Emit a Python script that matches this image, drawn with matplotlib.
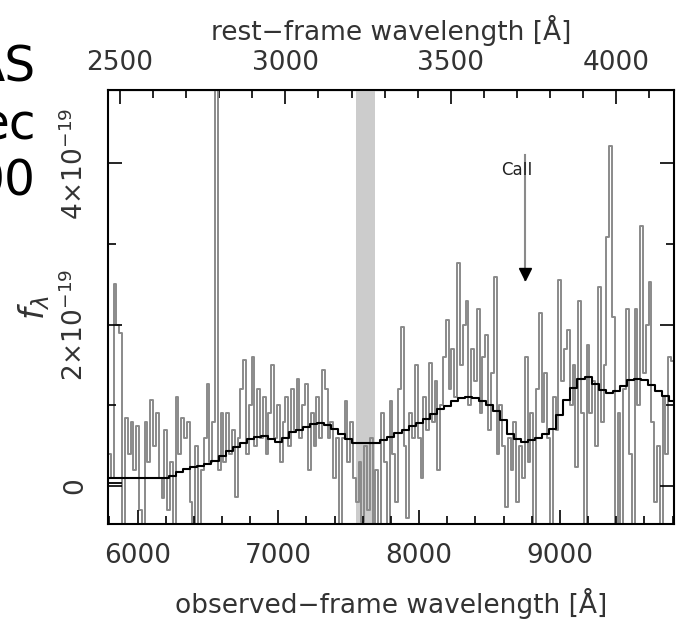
import matplotlib.pyplot as plt
import matplotlib.ticker as ticker
import numpy as np

plt.rcParams['font.family'] = ['DejaVu Sans']
plt.rcParams['mathtext.fontset'] = 'dejavusans'

# observed-frame spectrum, 20 A bins starting at 5800 A, units of 1e-19
one_plus_z = 2.35
flux_start, flux_step = 5800, 20
flux = [0.4, 0.1, 2.5, 2.0, 1.9, -0.8, 0.85, 0.4, 0.8, 0.2, 0.75, -0.3, -0.8, 0.8, 0.3, 1.07, 0.5, 0.9, 0.1, -0.15, 0.7, -0.3, 0.3, -0.8, 1.1,
        0.4, 0.85, 0.6, 0.8, -0.2, -0.8, 0.5, -0.8, 0.2, 0.6, 1.27, 0.3, 0.8, 6.0, 0.2, 0.9, 0.3, 0.9, 0.4, 0.7, -0.14, 0.6, 1.2, 1.56, 0.4,
        1.0, 1.6, 0.5, 1.2, 0.6, 1.1, 0.4, 0.9, 1.5, 0.6, 1.0, 0.3, 0.8, 1.1, 0.5, 1.2, 0.7, 1.33, 0.6, 1.0, 1.26, 0.2, 0.9, 0.5, 1.1,
        0.6, 1.44, 1.2, 0.6, 0.8, 0.1, 0.6, -0.8, 0.6, 1.06, 0.3, 0.8, 0.1, -0.2, 0.3, -0.45, 0.5, -0.3, 0.6, -0.8, 0.2, -0.5, 0.9, 0.3, -0.8,
        1.06, 0.4, -0.2, 1.2, 1.97, 0.5, -0.4, 0.9, 0.6, 1.5, 0.6, 0.1, 1.1, 0.7, 1.52, 0.8, 1.3, 0.2, 1.0, 1.6, 2.06, 1.2, 1.7, 1.1, 2.76,
        1.5, 2.0, 2.3, 1.0, 1.7, 1.3, 2.2, 0.9, 1.6, 1.87, 0.7, 1.4, 2.59, 0.4, 1.0, 0.5, -0.26, 0.6, 0.2, 0.8, -0.2, 0.5, 0.1, 1.6, 0.3,
        0.9, -0.8, 1.2, 2.14, 0.8, 1.4, 0.6, -0.8, 1.1, 0.7, 2.55, 1.3, 1.7, 1.94, 1.0, 1.5, 0.24, 2.3, 0.9, -0.8, 1.75, 0.9, 1.3, 0.5, 2.47,
        0.8, 1.5, 3.09, 4.22, 2.1, -0.8, 0.9, -0.8, 1.2, 2.2, 0.4, -0.8, 2.2, 1.0, 3.23, 1.4, 2.0, 2.53, 0.8, -0.2, 0.5, -0.8, 1.1, 0.4, 1.6,
        1.55]

# model continuum, 50 A bins
model_start, model_step = 5800, 50
model = [0.1, 0.1, 0.1, 0.1, 0.1, 0.1, 0.1, 0.1, 0.1, 0.12,
         0.17, 0.21, 0.24, 0.25, 0.27, 0.31, 0.37, 0.43, 0.49, 0.54,
         0.58, 0.61, 0.62, 0.59, 0.55, 0.6, 0.67, 0.7, 0.73, 0.77,
         0.78, 0.76, 0.71, 0.65, 0.58, 0.54, 0.53, 0.53, 0.54, 0.57,
         0.61, 0.66, 0.7, 0.74, 0.78, 0.83, 0.89, 0.95, 0.99, 1.05,
         1.09, 1.1, 1.09, 1.06, 1.01, 0.93, 0.82, 0.65, 0.58, 0.55,
         0.57, 0.6, 0.64, 0.71, 0.88, 1.07, 1.22, 1.33, 1.35, 1.27,
         1.19, 1.15, 1.18, 1.24, 1.31, 1.33, 1.31, 1.25, 1.18, 1.12,
         1.06]

band = [7550, 7690]
caii_wave = 8752
caii_top, caii_tip = 4.1, 2.55

wave = flux_start + flux_step * np.arange(len(flux))
mwave = model_start + model_step * np.arange(len(model))

fig = plt.figure(figsize=(6.81, 6.28), dpi=100)
ax = fig.add_axes([0.1586, 0.1656, 0.831, 0.691])

ax.axvspan(band[0], band[1], color='#cccccc', lw=0, zorder=0.5)
ax.plot(wave, flux, drawstyle='steps-mid', color='#8a8a8a', lw=1.4, zorder=1)
ax.plot(mwave, model, drawstyle='steps-mid', color='black', lw=1.5, zorder=2)
ax.plot([5790, 5880], [0.04, 0.04], color='black', lw=1.3, zorder=2)

# CaII marker
ax.plot([caii_wave, caii_wave], [caii_top, caii_tip], color='#8a8a8a', lw=1.5, zorder=3)
ax.plot([caii_wave], [caii_tip + 0.08], marker='v', color='black', ms=9, zorder=4)
ax.text(caii_wave - 55, 3.92, 'CaII', fontsize=12, ha='center', va='center', color='#222222')

ax.set_xlim(5790, 9810)
ax.set_ylim(-0.47, 4.91)

ax.xaxis.set_major_locator(ticker.MultipleLocator(1000))
ax.xaxis.set_minor_locator(ticker.MultipleLocator(200))
ax.yaxis.set_major_locator(ticker.FixedLocator([0, 2, 4]))
ax.yaxis.set_minor_locator(ticker.FixedLocator([1, 3]))
ax.set_yticklabels(['0', r'2$\times$10$^{-19}$', r'4$\times$10$^{-19}$'],
                   rotation=90, va='center')

ax.tick_params(which='both', direction='in', top=False, right=True, width=1.2,
               labelsize=19, labelcolor='#333333', pad=14)
ax.tick_params(which='major', length=10)
ax.tick_params(which='minor', length=6)
for s in ax.spines.values():
    s.set_linewidth(1.5)

top = ax.secondary_xaxis('top', functions=(lambda x: x / one_plus_z, lambda r: r * one_plus_z))
top.xaxis.set_major_locator(ticker.MultipleLocator(500))
top.xaxis.set_minor_locator(ticker.MultipleLocator(100))
top.tick_params(which='both', direction='in', width=1.2, labelsize=19,
                labelcolor='#333333', pad=10)
top.tick_params(which='major', length=10)
top.tick_params(which='minor', length=6)
top.set_xlabel('rest\u2212frame wavelength [Å]', fontsize=19, color='#333333', labelpad=7)

ax.set_xlabel('observed\u2212frame wavelength [Å]', fontsize=19, color='#333333', labelpad=13)
ax.set_ylabel(r'$f_\lambda$', fontsize=24, color='#333333', labelpad=6)

# pieces of the neighbouring panel's text, cut by the figure edge
for txt, yy in [('AS', 82), ('ec', 140), ('00', 195)]:
    fig.text(36 / 681, 1 - yy / 628, txt, fontsize=35, ha='right', va='baseline', color='black')

fig.savefig('out.png', dpi=100)
